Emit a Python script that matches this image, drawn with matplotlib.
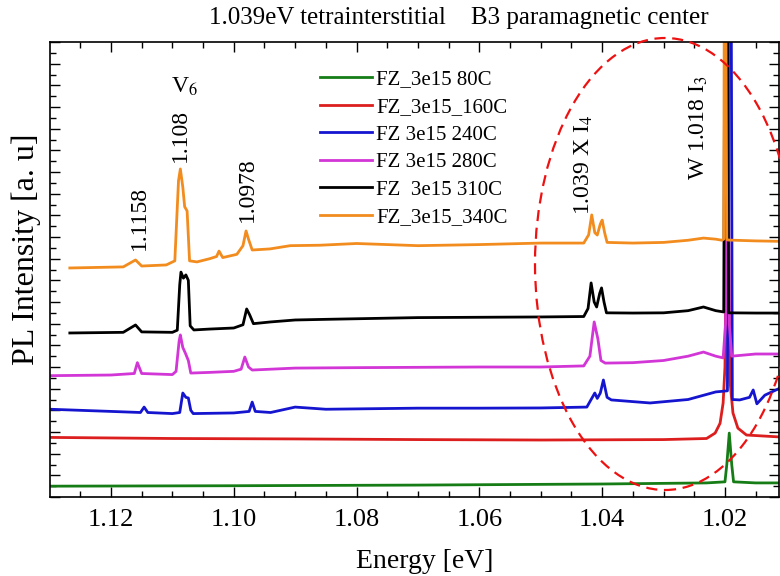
import numpy as np
from matplotlib import pyplot as plt
from matplotlib.ticker import MultipleLocator, FormatStrFormatter, NullFormatter
import matplotlib.patches as mpatches

plt.rcParams['font.family'] = ['Liberation Serif', 'DejaVu Serif']
plt.rcParams['mathtext.fontset'] = 'stix'

# spectra: energy [eV] and offset intensity [a.u.]
e_80 = [1.1299, 1.1000, 1.0700, 1.0400, 1.0230, 1.0200, 1.0197, 1.0193, 1.0189, 1.0186, 1.0150, 1.0110]
i_80 = [0.50, 0.52, 0.55, 0.60, 0.65, 0.70, 1.50, 2.95, 1.50, 0.70, 0.65, 0.65]

e_160 = [1.1299, 1.1100, 1.0900, 1.0700, 1.0500, 1.0300, 1.0230, 1.0216, 1.0208, 1.0203, 1.0200,
         1.0198, 1.0196, 1.0194, 1.0192, 1.0187, 1.0179, 1.0165, 1.0110]
i_160 = [2.75, 2.70, 2.68, 2.65, 2.63, 2.65, 2.70, 2.95, 3.40, 4.34, 6.0,
         12.0, 25.0, 12.0, 5.40, 3.88, 3.18, 2.86, 2.77]

e_240 = [1.1299, 1.1200, 1.1152, 1.1146, 1.1140, 1.1100, 1.1088, 1.1083, 1.1078, 1.1074, 1.1070,
         1.1066, 1.1000, 1.0975, 1.0970, 1.0965, 1.0940, 1.0900, 1.0850, 1.0700, 1.0600, 1.0500,
         1.0425, 1.0418, 1.0412, 1.0408, 1.0403, 1.0398, 1.0392, 1.0385, 1.0322, 1.0260, 1.0215,
         1.0196, 1.0194, 1.0192, 1.0190, 1.0188, 1.0176, 1.0160, 1.0154, 1.0148, 1.0135, 1.0110]
i_240 = [4.05, 3.95, 3.90, 4.15, 3.90, 3.85, 3.90, 4.80, 4.60, 4.57, 4.00,
         3.85, 3.88, 3.95, 4.38, 3.95, 3.90, 4.15, 4.05, 4.10, 4.10, 4.11,
         4.15, 4.50, 4.80, 4.55, 4.80, 5.40, 4.60, 4.48, 4.34, 4.50, 4.85,
         4.90, 25.0, 25.0, 25.0, 4.50, 4.48, 4.60, 4.94, 4.30, 4.70, 5.03]

e_280 = [1.1299, 1.1200, 1.1162, 1.1157, 1.1150, 1.1100, 1.1094, 1.1089, 1.1087, 1.1083, 1.1079,
         1.1074, 1.1070, 1.1040, 1.1000, 1.0988, 1.0982, 1.0976, 1.0970, 1.0900, 1.0800, 1.0600,
         1.0500, 1.0430, 1.0420, 1.0413, 1.0407, 1.0402, 1.0395, 1.0350, 1.0300, 1.0260, 1.0235,
         1.0215, 1.0203, 1.0199, 1.0196, 1.0193, 1.0189, 1.0150, 1.0110]
i_280 = [5.60, 5.63, 5.70, 6.20, 5.70, 5.65, 5.80, 7.20, 7.48, 6.90, 6.65,
         6.30, 5.72, 5.75, 5.80, 5.90, 6.46, 6.00, 5.86, 5.95, 5.97, 6.00,
         6.00, 6.05, 6.50, 8.08, 7.30, 6.30, 6.18, 6.20, 6.30, 6.50, 6.69,
         6.50, 6.42, 8.0, 25.0, 8.0, 6.50, 6.60, 6.60]

e_310 = [1.1267, 1.1180, 1.1160, 1.1150, 1.1100, 1.1092, 1.1088, 1.1086, 1.1082, 1.1078, 1.1074,
         1.1071, 1.1065, 1.1040, 1.1000, 1.0985, 1.0979, 1.0974, 1.0968, 1.0940, 1.0900, 1.0850,
         1.0700, 1.0500, 1.0430, 1.0423, 1.0418, 1.0413, 1.0409, 1.0404, 1.0401, 1.0397, 1.0393,
         1.0350, 1.0300, 1.0260, 1.0235, 1.0215, 1.0202, 1.0200, 1.0198, 1.0196, 1.0194, 1.0150, 1.0110]
i_310 = [7.57, 7.60, 7.94, 7.62, 7.60, 7.70, 9.80, 10.38, 10.10, 10.25, 10.00,
         7.90, 7.71, 7.75, 7.80, 7.95, 8.68, 8.40, 8.00, 8.08, 8.17, 8.20,
         8.28, 8.31, 8.33, 8.70, 9.88, 9.00, 8.77, 9.40, 9.65, 9.00, 8.50,
         8.49, 8.50, 8.60, 8.77, 8.60, 8.54, 25.0, 25.0, 25.0, 8.50, 8.49, 8.49]

e_340 = [1.1267, 1.1180, 1.1160, 1.1150, 1.1110, 1.1096, 1.1090, 1.1087, 1.1083, 1.1080, 1.1076,
         1.1072, 1.1060, 1.1039, 1.1028, 1.1024, 1.1018, 1.0995, 1.0985, 1.0980, 1.0976, 1.0970,
         1.0941, 1.0908, 1.0860, 1.0800, 1.0700, 1.0600, 1.0500, 1.0430, 1.0422, 1.0417, 1.0412,
         1.0408, 1.0403, 1.0400, 1.0396, 1.0392, 1.0350, 1.0300, 1.0260, 1.0235, 1.0215, 1.0205,
         1.0202, 1.0201, 1.0199, 1.0197, 1.0196, 1.0150, 1.0110]
i_340 = [10.57, 10.62, 10.94, 10.66, 10.71, 10.90, 14.60, 15.14, 14.30, 13.40, 13.20,
         10.90, 10.85, 11.00, 11.10, 11.35, 11.05, 11.20, 11.60, 12.28, 11.90, 11.40,
         11.45, 11.60, 11.62, 11.70, 11.60, 11.65, 11.72, 11.72, 12.10, 13.02, 12.20,
         12.09, 12.60, 12.78, 12.20, 11.75, 11.72, 11.75, 11.85, 11.95, 11.90, 11.85,
         11.90, 25.0, 25.0, 11.95, 11.86, 11.82, 11.80]

labels = ['FZ_3e15 80C', 'FZ_3e15_160C', 'FZ 3e15 240C', 'FZ 3e15 280C', 'FZ  3e15 310C', 'FZ_3e15_340C']
colors = ['#167d16', '#dc1e1e', '#1515cf', '#d236d6', '#000000', '#f28c1e']
energies = [e_80, e_160, e_240, e_280, e_310, e_340]
intens = [i_80, i_160, i_240, i_280, i_310, i_340]

fig = plt.figure(figsize=(7.8, 5.76), dpi=100)
ax = fig.add_axes([50/780, 79/576, 729/780, 455/576])

for e, i, c, l in zip(energies, intens, colors, labels):
    ax.plot(e, i, color=c, lw=2.0, label=l)

ax.set_xlim(1.12993, 1.0112)
ax.set_ylim(0, 21)
ax.xaxis.set_major_locator(MultipleLocator(0.02))
ax.xaxis.set_minor_locator(MultipleLocator(0.005))
ax.xaxis.set_major_formatter(FormatStrFormatter('%.2f'))
ax.yaxis.set_major_locator(MultipleLocator(1))
ax.yaxis.set_minor_locator(MultipleLocator(0.5))
ax.yaxis.set_major_formatter(NullFormatter())
ax.tick_params(which='both', direction='in', top=True, right=True, width=1.0)
ax.tick_params(which='major', length=7)
ax.tick_params(which='minor', length=4)
ax.tick_params(axis='x', labelsize=19, pad=9)
for s in ax.spines.values():
    s.set_linewidth(1.2)

# peak annotations
ax.text(1.11544, 11.4, '1.1158', rotation=90, ha='center', va='bottom', fontsize=17)
ax.text(1.10876, 15.46, '1.108', rotation=90, ha='center', va='bottom', fontsize=17)
ax.text(1.10795, 18.92, 'V$_6$', ha='center', va='center', fontsize=17)
ax.text(1.09785, 12.69, '1.0978', rotation=90, ha='center', va='bottom', fontsize=17)
ax.text(1.0430, 13.02, '1.039 X I$_4$', rotation=90, ha='center', va='bottom', fontsize=17)
ax.text(1.0242, 14.63, 'W 1.018 I$_3$', rotation=90, ha='center', va='bottom', fontsize=17)

ax.legend(loc='upper left', bbox_to_anchor=(320/780, 1 - 70/576), bbox_transform=fig.transFigure,
          frameon=False, fontsize=15, handlelength=2.5, handletextpad=0.2,
          labelspacing=0.38, borderpad=0, borderaxespad=0)

fig.text(459/780, 1 - 18/576, '1.039eV tetrainterstitial    B3 paramagnetic center',
         ha='center', va='center', fontsize=18)
fig.text(425/780, 1 - 561/576, 'Energy [eV]', ha='center', va='center', fontsize=20)
fig.text(26/780, 1 - 249/576, 'PL Intensity [a. u]', rotation=90, ha='center', va='center', fontsize=23)

ell = mpatches.Ellipse((665/780, 1 - 264/576), 260/780, 452/576, transform=fig.transFigure,
                       fill=False, edgecolor='#ee1111', lw=1.6, linestyle=(0, (5, 3)), clip_on=False)
fig.patches.append(ell)

plt.savefig('out.png', dpi=100)
